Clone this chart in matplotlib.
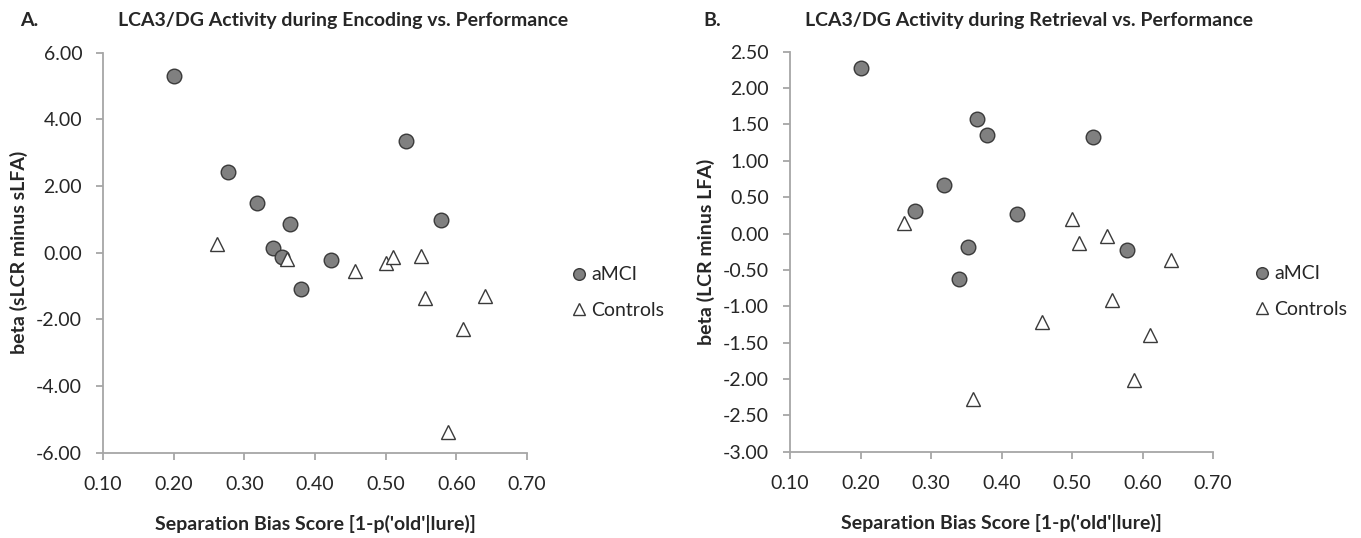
import matplotlib
matplotlib.use("Agg")
import matplotlib.pyplot as plt
from matplotlib.ticker import FormatStrFormatter, MultipleLocator

plt.rcParams['font.family'] = ['Lato', 'DejaVu Sans']

# separation bias score (same subjects in both panels)
amci_x = [0.200, 0.277, 0.318, 0.340, 0.353, 0.365, 0.380, 0.422, 0.529, 0.578]
ctrl_x = [0.261, 0.360, 0.457, 0.500, 0.510, 0.550, 0.556, 0.588, 0.610, 0.640]

# A. encoding
enc_amci = [5.30, 2.43, 1.48, 0.13, -0.14, 0.86, -1.09, -0.22, 3.34, 0.97]
enc_ctrl = [0.25, -0.20, -0.54, -0.30, -0.14, -0.10, -1.35, -5.39, -2.30, -1.29]

# B. retrieval
ret_amci = [2.27, 0.31, 0.67, -0.62, -0.19, 1.58, 1.36, 0.27, 1.33, -0.23]
ret_ctrl = [0.14, -2.27, -1.22, 0.20, -0.13, -0.03, -0.92, -2.01, -1.39, -0.37]

axis_col = '#a6a6a6'
txt_col = '#262626'
fs = 14

fig = plt.figure(figsize=(13.61, 5.38), dpi=100)
axA = fig.add_axes([0.0757, 0.1585, 0.3115, 0.7435])
axB = fig.add_axes([0.5805, 0.1604, 0.3108, 0.7435])


def dibujar(ax, ya, yc, ylim, ystep, ylabel, letra, titulo, xl, xt, legx):
    ax.plot(amci_x, ya, 'o', ms=10.5, mfc='#808080', mec='#3a3a3a', mew=1.0,
            ls='none', label='aMCI', clip_on=False)
    ax.plot(ctrl_x, yc, '^', ms=10.5, mfc='white', mec='#3a3a3a', mew=1.0,
            ls='none', label='Controls', clip_on=False)
    ax.set_xlim(0.1, 0.7)
    ax.set_ylim(*ylim)
    ax.xaxis.set_major_locator(MultipleLocator(0.1))
    ax.yaxis.set_major_locator(MultipleLocator(ystep))
    ax.xaxis.set_major_formatter(FormatStrFormatter('%.2f'))
    ax.yaxis.set_major_formatter(FormatStrFormatter('%.2f'))
    for s in ['top', 'right']:
        ax.spines[s].set_visible(False)
    for s in ['left', 'bottom']:
        ax.spines[s].set_color(axis_col)
        ax.spines[s].set_linewidth(1.3)
    ax.tick_params(direction='out', length=5, width=1.3, color=axis_col,
                   labelsize=fs, labelcolor=txt_col, pad=10)
    ax.tick_params(axis='x', pad=12)
    ax.set_xlabel("Separation Bias Score [1-p('old'|lure)]", fontsize=fs,
                  fontweight='bold', color=txt_col)
    ax.xaxis.label.set_va('center')
    ax.xaxis.set_label_coords(0.5, -0.178)
    ax.set_ylabel(ylabel, fontsize=fs, fontweight='bold', color=txt_col)
    ax.yaxis.label.set_va('center')
    ax.yaxis.set_label_coords(-0.198, 0.5)
    leg = ax.legend(loc='center left', bbox_to_anchor=(legx, 0.40), frameon=False,
                    fontsize=fs, handlelength=0.8, handletextpad=0.25, borderpad=0,
                    borderaxespad=0, labelspacing=0.95, markerscale=0.8)
    for t in leg.get_texts():
        t.set_color(txt_col)
    fig.text(xl, 0.961, letra, fontsize=fs, fontweight='bold', color=txt_col, va='center')
    fig.text(xt, 0.961, titulo, fontsize=fs, fontweight='bold', color=txt_col, va='center')


dibujar(axA, enc_amci, enc_ctrl, (-6, 6), 2, 'beta (sLCR minus sLFA)', 'A.',
        'LCA3/DG Activity during Encoding vs. Performance', 0.0147, 0.0867, 1.104)
dibujar(axB, ret_amci, ret_ctrl, (-3, 2.5), 0.5, 'beta (LCR minus LFA)', 'B.',
        'LCA3/DG Activity during Retrieval vs. Performance', 0.5165, 0.5915, 1.097)

fig.savefig('out.png', dpi=100)
